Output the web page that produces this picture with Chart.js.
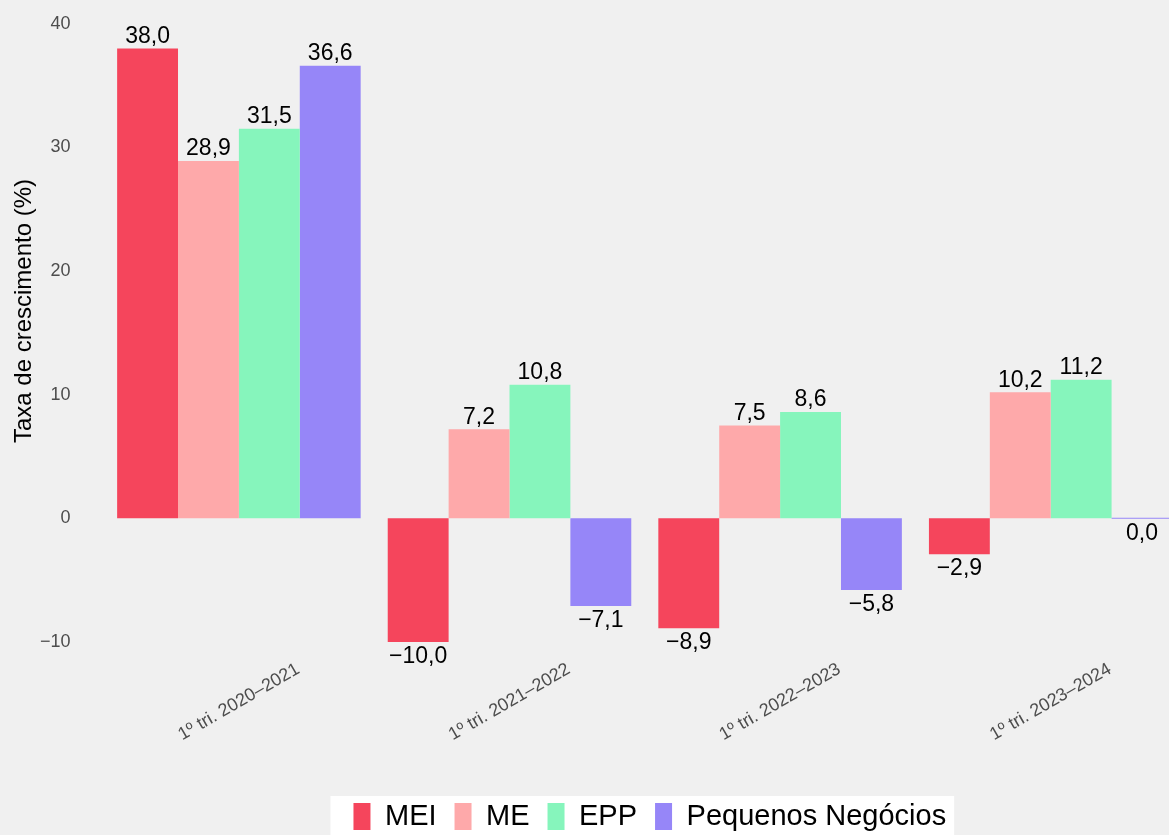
<!DOCTYPE html>
<html>
<head>
<meta charset="utf-8">
<script src="https://cdn.jsdelivr.net/npm/chart.js@4"></script>
<style>
    html, body { margin: 0; padding: 0; background: #f0f0f0; overflow: hidden; }
    #wrap { width: 1186px; height: 866px; margin-top: -25px; }
</style>
</head>
<body>
<div id="wrap"><canvas id="growthChart" width="1186" height="866"></canvas></div>
<script>
const categories = ["1º tri. 2020–2021", "1º tri. 2021–2022", "1º tri. 2022–2023", "1º tri. 2023–2024"];
const meiValues = [38.0, -10.0, -8.9, -2.9];
const meValues = [28.9, 7.2, 7.5, 10.2];
const eppValues = [31.5, 10.8, 8.6, 11.2];
const pequenosValues = [36.6, -7.1, -5.8, 0.0];
const yTicks = [-10, 0, 10, 20, 30, 40];

const FONT = "'Liberation Sans', Arial, sans-serif";
const SHIFT = 25; // canvas is pulled up by this much

function fmt(v) {
    return v.toFixed(1).replace(".", ",").replace("-", "\u2212");
}

// nudge legend right a bit (before its hitboxes are placed) and paint white panel behind it
const legendBox = {
    id: "legendBox",
    afterLayout(chart) {
        const lg = chart.legend;
        if (!lg) return;
        lg.left += 5;
        lg.right += 5;
    },
    beforeDraw(chart) {
        const boxes = chart.legend && chart.legend.legendHitBoxes;
        if (!boxes || !boxes.length) return;
        const first = boxes[0];
        const last = boxes[boxes.length - 1];
        const ctx = chart.ctx;
        ctx.save();
        ctx.fillStyle = "#ffffff";
        ctx.fillRect(first.left - 23, first.top - 6, last.left + last.width + 8 - (first.left - 23), chart.height);
        ctx.restore();
    }
};

// value labels, rotated category labels and y title
const annotations = {
    id: "annotations",
    afterDatasetsDraw(chart) {
        const ctx = chart.ctx;
        ctx.save();
        ctx.font = "23px " + FONT;
        ctx.fillStyle = "#000000";
        ctx.textAlign = "center";
        ctx.textBaseline = "alphabetic";
        chart.data.datasets.forEach((ds, i) => {
            chart.getDatasetMeta(i).data.forEach((bar, j) => {
                const v = ds.data[j];
                if (v > 0) {
                    ctx.fillText(fmt(v), bar.x, bar.y - 5.5);
                } else {
                    const bottom = Math.max(bar.y, bar.base);
                    ctx.fillText(fmt(v), bar.x, bottom + 21);
                }
            });
        });

        const x = chart.scales.x;
        ctx.font = "18px " + FONT;
        ctx.fillStyle = "#4d4d4d";
        ctx.textBaseline = "middle";
        categories.forEach((c, i) => {
            ctx.save();
            ctx.translate(x.getPixelForValue(i), 702 + SHIFT);
            ctx.rotate(-Math.PI / 6);
            ctx.fillText(c, 0, 0);
            ctx.restore();
        });

        ctx.font = "24px " + FONT;
        ctx.fillStyle = "#000000";
        ctx.translate(24, 311 + SHIFT);
        ctx.rotate(-Math.PI / 2);
        ctx.fillText("Taxa de crescimento (%)", 0, 0);
        ctx.restore();
    }
};

const ctx = document.getElementById("growthChart").getContext("2d");

new Chart(ctx, {
    type: "bar",
    data: {
        labels: categories,
        datasets: [
            { label: "MEI", data: meiValues, backgroundColor: "#f5455c" },
            { label: "ME", data: meValues, backgroundColor: "#fea9aa" },
            { label: "EPP", data: eppValues, backgroundColor: "#86f5bc" },
            { label: "Pequenos Negócios", data: pequenosValues, backgroundColor: "#9686f8", minBarLength: 1 }
        ]
    },
    options: {
        responsive: false,
        animation: false,
        devicePixelRatio: 1,
        datasets: {
            bar: {
                categoryPercentage: 0.9,
                barPercentage: 1.0,
                borderWidth: 0
            }
        },
        layout: {
            padding: 0
        },
        scales: {
            x: {
                grid: { display: false, drawTicks: false },
                border: { display: false },
                ticks: { display: false },
                afterFit: scale => { scale.height = 112.4; }
            },
            y: {
                min: -12.4,
                max: 40.4,
                grid: { display: false, drawTicks: false },
                border: { display: false },
                afterBuildTicks: scale => {
                    scale.ticks = yTicks.map(v => ({ value: v }));
                },
                ticks: {
                    padding: 33,
                    color: "#4d4d4d",
                    font: { family: FONT, size: 18 },
                    callback: v => String(v).replace("-", "\u2212")
                },
                afterFit: scale => { scale.width = 103.6; }
            }
        },
        plugins: {
            legend: {
                position: "bottom",
                fullSize: false,
                labels: {
                    boxWidth: 17,
                    boxHeight: 27,
                    padding: 18,
                    color: "#000000",
                    font: { family: FONT, size: 29 }
                }
            },
            title: { display: false },
            tooltip: { enabled: false }
        }
    },
    plugins: [legendBox, annotations]
});
</script>
</body>
</html>
